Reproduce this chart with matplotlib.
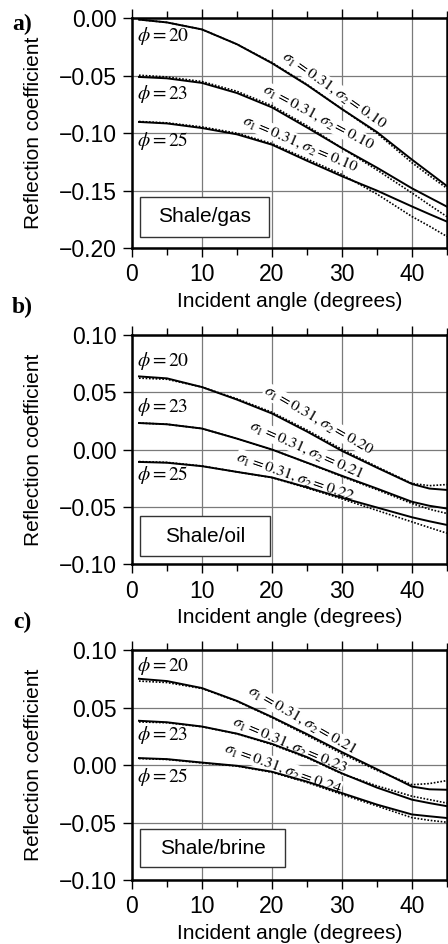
import matplotlib
matplotlib.use("Agg")
import matplotlib.pyplot as plt
from matplotlib.patches import Rectangle
from matplotlib.ticker import MultipleLocator, FuncFormatter

plt.rcParams["font.family"] = ["Liberation Sans", "DejaVu Sans"]
plt.rcParams["mathtext.fontset"] = "stix"

angle = [1, 5, 10, 15, 20, 25, 30, 35, 40, 42.5, 45]
phis = [20, 23, 25]

# a) shale/gas
gas_solid = [
    [-0.001, -0.0035, -0.0096, -0.0225, -0.039, -0.058, -0.079, -0.099, -0.123, -0.1345, -0.146],
    [-0.051, -0.0522, -0.0562, -0.065, -0.0775, -0.095, -0.113, -0.130, -0.148, -0.156, -0.164],
    [-0.0902, -0.0915, -0.0955, -0.101, -0.110, -0.124, -0.1375, -0.150, -0.1638, -0.1705, -0.177],
]
gas_dotted = [
    [-0.001, -0.0035, -0.0096, -0.0225, -0.0385, -0.0575, -0.079, -0.100, -0.1257, -0.137, -0.148],
    [-0.0495, -0.051, -0.055, -0.0635, -0.076, -0.0935, -0.113, -0.132, -0.152, -0.1625, -0.1727],
    [-0.0898, -0.091, -0.0945, -0.100, -0.109, -0.1225, -0.136, -0.153, -0.1726, -0.181, -0.190],
]
gas_sigma2 = ["0.10", "0.10", "0.10"]

# b) shale/oil
oil_solid = [
    [0.0637, 0.062, 0.0544, 0.0435, 0.0314, 0.0157, -0.0012, -0.0158, -0.030, -0.034, -0.0352],
    [0.0231, 0.022, 0.0183, 0.0095, 0.0, -0.0114, -0.0229, -0.034, -0.0455, -0.049, -0.0514],
    [-0.0108, -0.0115, -0.0145, -0.0195, -0.0243, -0.0329, -0.042, -0.0505, -0.059, -0.0625, -0.0657],
]
oil_dotted = [
    [0.0622, 0.0612, 0.0544, 0.0442, 0.0325, 0.017, 0.0002, -0.015, -0.0295, -0.0315, -0.0305],
    [0.0231, 0.022, 0.0183, 0.0095, 0.0, -0.0116, -0.0235, -0.035, -0.047, -0.052, -0.0557],
    [-0.0105, -0.0112, -0.0143, -0.0195, -0.0245, -0.0335, -0.043, -0.053, -0.063, -0.068, -0.0729],
]
oil_sigma2 = ["0.20", "0.21", "0.22"]

# c) shale/brine
brine_solid = [
    [0.0753, 0.0733, 0.0672, 0.056, 0.042, 0.0271, 0.0114, -0.0035, -0.0186, -0.021, -0.0214],
    [0.0387, 0.0374, 0.0337, 0.0275, 0.0186, 0.0071, -0.0071, -0.0195, -0.030, -0.033, -0.0357],
    [0.0062, 0.0053, 0.0023, -0.0005, -0.0057, -0.0143, -0.0243, -0.0343, -0.0429, -0.0445, -0.046],
]
brine_dotted = [
    [0.0733, 0.072, 0.0668, 0.0557, 0.0415, 0.026, 0.010, -0.0045, -0.017, -0.016, -0.0134],
    [0.0377, 0.037, 0.0335, 0.0273, 0.018, 0.0065, -0.0075, -0.018, -0.027, -0.030, -0.033],
    [0.0058, 0.005, 0.002, -0.0008, -0.0062, -0.015, -0.0255, -0.0355, -0.0457, -0.048, -0.0497],
]
brine_sigma2 = ["0.21", "0.23", "0.24"]

panels = [
    dict(letter="a)", letter_px=24, name="Shale/gas", solid=gas_solid, dotted=gas_dotted,
         s2=gas_sigma2, ylim=(-0.20, 0.0), bottom=0.7373,
         phi_y=[-0.0157, -0.0655, -0.107],
         lab=[(28.9, -0.062, -35), (26.6, -0.086, -28), (24.0, -0.109, -23)],
         box=(1.15, -0.1905, 18.4, 0.035)),
    dict(letter="b)", letter_px=307, name="Shale/oil", solid=oil_solid, dotted=oil_dotted,
         s2=oil_sigma2, ylim=(-0.10, 0.10), bottom=0.4022,
         phi_y=[0.077, 0.037, -0.0223],
         lab=[(26.6, 0.0257, -30), (24.9, -0.0003, -24), (23.3, -0.0232, -19)],
         box=(1.15, -0.0928, 18.6, 0.0348)),
    dict(letter="c)", letter_px=622, name="Shale/brine", solid=brine_solid, dotted=brine_dotted,
         s2=brine_sigma2, ylim=(-0.10, 0.10), bottom=0.0678,
         phi_y=[0.086, 0.0265, -0.0099],
         lab=[(24.3, 0.0395, -30), (22.6, 0.0177, -23), (21.6, -0.0027, -20)],
         box=(1.15, -0.0889, 20.7, 0.0334)),
]


def fmt(v, _):
    s = "%.2f" % round(v, 4)
    if s == "-0.00":
        s = "0.00"
    return s.replace("-", "\u2212")


fig = plt.figure(figsize=(4.48, 9.44), dpi=100)

for p in panels:
    ax = fig.add_axes([0.2946, p["bottom"], 0.703, 0.2432])
    ax.set_xlim(0, 45)
    ax.set_ylim(*p["ylim"])
    ax.xaxis.set_major_locator(MultipleLocator(10))
    ax.xaxis.set_minor_locator(MultipleLocator(5))
    ax.yaxis.set_major_locator(MultipleLocator(0.05))
    ax.yaxis.set_major_formatter(FuncFormatter(fmt))
    ax.tick_params(which="both", direction="out", top=True, right=True,
                   labelsize=16.5, width=1.0, pad=4.5)
    ax.tick_params(which="major", length=6.5)
    ax.tick_params(which="minor", length=5)
    ax.grid(True, which="major", color="#7a7a7a", lw=0.9, zorder=0)
    ax.set_axisbelow(True)
    for s in ax.spines.values():
        s.set_linewidth(1.8)

    for i in range(3):
        ax.plot(angle, p["solid"][i], color="black", lw=1.4, zorder=4)
        ax.plot(angle, p["dotted"][i], color="black", lw=1.2, ls=(0, (1, 1)), zorder=4)
        ax.text(0.7, p["phi_y"][i], r"$\phi = %d$" % phis[i], fontsize=14,
                ha="left", va="center", zorder=3)
        lx, ly, rot = p["lab"][i]
        ax.text(lx, ly, r"$\sigma_1 = 0.31, \sigma_2 = %s$" % p["s2"][i], fontsize=11.5,
                ha="center", va="center", rotation=rot, rotation_mode="anchor",
                zorder=3, bbox=dict(facecolor="white", edgecolor="none", pad=0))

    bx, by, bw, bh = p["box"]
    ax.add_patch(Rectangle((bx, by), bw, bh, facecolor="white", edgecolor="#333333",
                           lw=1.0, zorder=5))
    ax.text(bx + bw / 2, by + bh / 2, p["name"], fontsize=15, ha="center", va="center", zorder=6)

    ax.set_xlabel("Incident angle (degrees)", fontsize=15, labelpad=4)
    ax.set_ylabel("Reflection coefficient", fontsize=15, labelpad=11.5)

    fig.text(0.05, 1 - p["letter_px"] / 944, p["letter"], fontsize=17, fontweight="bold",
             family="Liberation Serif", ha="center", va="center")

fig.savefig("out.png", dpi=100)
